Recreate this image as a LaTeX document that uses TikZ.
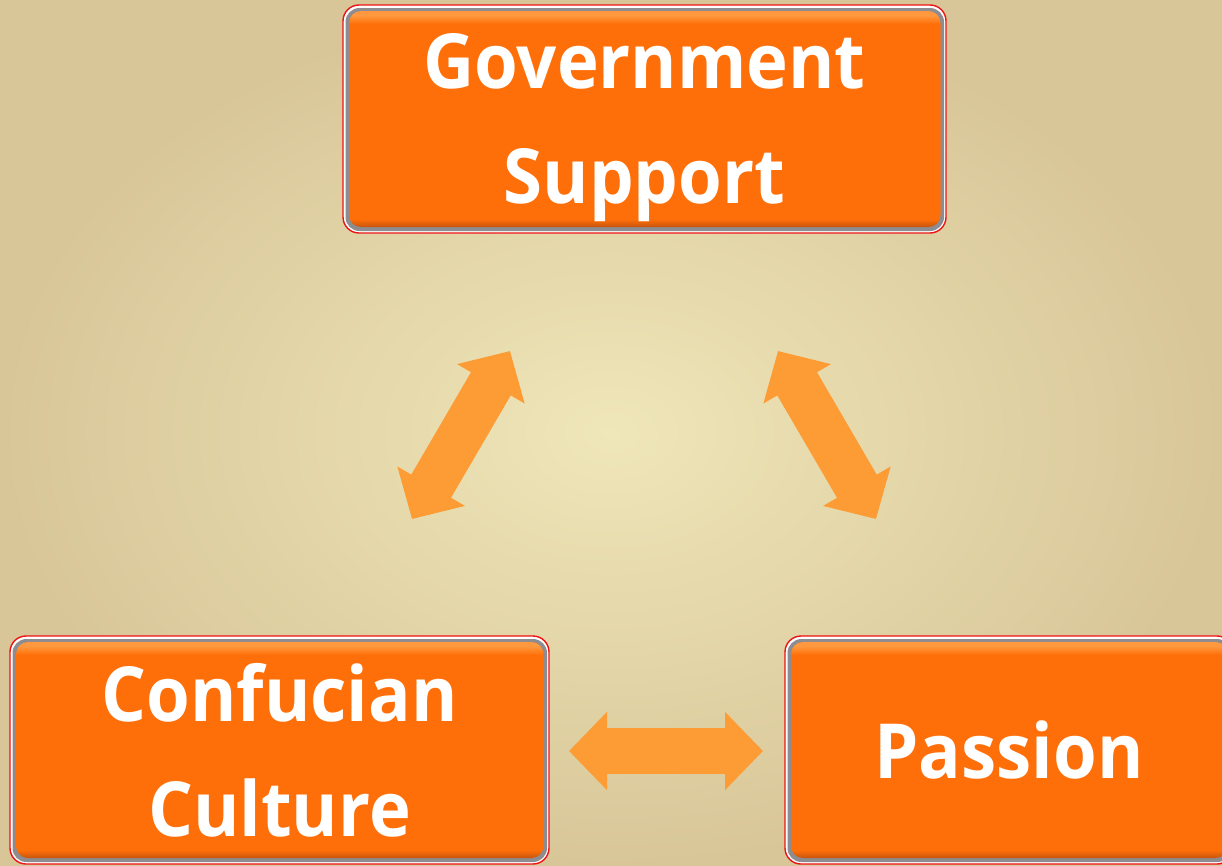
\documentclass[tikz,border=0pt]{standalone}
\usepackage{fontspec}
\setmainfont{Open Sans}[FakeStretch=0.93]
\usetikzlibrary{arrows.meta}
\definecolor{boxorange}{RGB}{255,111,9}
\definecolor{boxlight}{RGB}{255,152,62}
\definecolor{boxdark}{RGB}{200,84,12}
\definecolor{arroworange}{RGB}{253,155,52}
\definecolor{bgin}{RGB}{239,230,185}
\definecolor{bgout}{RGB}{216,198,152}
\definecolor{rimred}{RGB}{238,18,18}
\definecolor{rimgray}{RGB}{140,140,145}
\pgfdeclareverticalshading{boxshade}{100bp}{color(0bp)=(boxdark); color(25bp)=(boxdark); color(26.8bp)=(boxorange); color(72bp)=(boxorange); color(74bp)=(boxlight); color(75bp)=(boxlight); color(100bp)=(boxlight)}
\tikzset{
  obox/.style={draw=rimred, line width=1.4pt, fill=white, rounded corners=16pt,
    minimum width=#1, minimum height=228pt, inner sep=0pt, align=center,
    text=white, font=\fontsize{76}{115}\selectfont\bfseries,
    path picture={
      \fill[rimgray, rounded corners=14pt]
        ([shift={(2.5pt,2pt)}]path picture bounding box.south west) rectangle
        ([shift={(-2pt,-3pt)}]path picture bounding box.north east);
      \shade[shading=boxshade, rounded corners=12pt]
        ([shift={(6pt,6pt)}]path picture bounding box.south west) rectangle
        ([shift={(-5.5pt,-6pt)}]path picture bounding box.north east);
    }},
  dbl/.style={line width=46pt, draw=arroworange,
    {Triangle[length=38pt,width=76pt]}-{Triangle[length=38pt,width=76pt]}}
}
\begin{document}
\begin{tikzpicture}[x=1pt,y=-1pt]
\useasboundingbox (0,0) rectangle (1222,865);
\clip (0,0) rectangle (1222,865);
\shade[inner color=bgin, outer color=bgout] (0,0) rectangle (1222,865);

\node[obox=603pt] (gov) at (644.5,119) {Government\\Su\smash{pp}ort};
\node[obox=539pt] (conf) at (279.5,750) {Confucian\\Culture};
\node[obox=448pt] (pass) at (1009,750) {Passion};

\coordinate (a1s) at (412,519);
\coordinate (a1e) at (510,351);
\coordinate (a2s) at (778,351);
\coordinate (a2e) at (876,519);
\coordinate (a3s) at (569,751);
\coordinate (a3e) at (763,751);

\draw[dbl] (a1s) -- (a1e);
\draw[dbl] (a2s) -- (a2e);
\draw[dbl] (a3s) -- (a3e);
\end{tikzpicture}
\end{document}
